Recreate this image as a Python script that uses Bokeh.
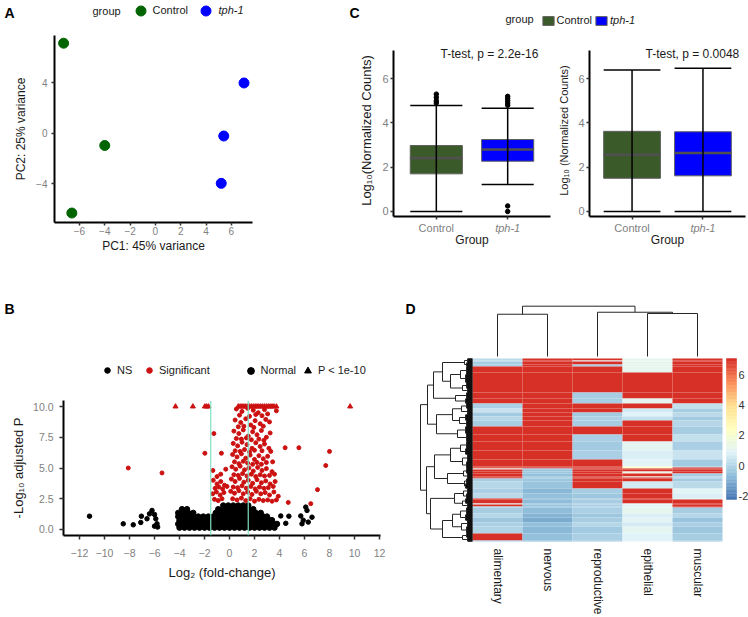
import math
import numpy as np
from bokeh.plotting import figure
from bokeh.models import (Range1d, FixedTicker, Label, Legend, LegendItem, LinearColorMapper,
                          Span, NumeralTickFormatter, ColumnDataSource)
from bokeh.layouts import row, column
from bokeh.embed import file_html
from bokeh.resources import INLINE
from bokeh.core.properties import value

FONT = "Liberation Sans"

# ---------------- Panel A: PCA ----------------
pca_pc1_control = [-7.25, -4.0, -6.6]
pca_pc2_control = [7.15, -0.95, -6.3]
pca_pc1_tph1 = [7.0, 5.4, 5.2]
pca_pc2_tph1 = [4.0, -0.2, -3.95]

# ---------------- Panel C: box plots ----------------
box_groups = ["Control", "tph-1"]
c1_low = [0.0, 1.22]
c1_q1 = [1.70, 2.27]
c1_med = [2.42, 2.80]
c1_q3 = [2.98, 3.25]
c1_high = [4.79, 4.66]
c1_out_group = [1, 1, 1, 1, 2, 2, 2, 2, 2, 2, 2]
c1_out_val = [4.9, 5.0, 5.15, 5.3, 4.8, 4.9, 5.0, 5.1, 5.2, 0.25, 0.0]
c2_low = [0.0, 0.0]
c2_q1 = [1.50, 1.61]
c2_med = [2.56, 2.64]
c2_q3 = [3.62, 3.60]
c2_high = [6.39, 6.47]

# ---------------- Panel B: volcano ----------------
ns_level_y = [0.15, 0.45, 0.75, 1.05, 1.35, 1.65, 1.95]
ns_level_x = [
    [-4.0, -3.6, -3.2, -2.8, -2.4, -2.0, -1.6, -1.2, -0.8, -0.4, 0.0, 0.4, 0.8, 1.2, 1.6, 2.0, 2.4, 2.8, 3.2, 3.6],
    [-4.1, -3.7, -3.3, -2.9, -2.5, -2.1, -1.7, -1.3, -0.9, -0.5, -0.1, 0.3, 0.7, 1.1, 1.5, 1.9, 2.3, 2.7, 3.1, 3.5, 3.8],
    [-4.0, -3.6, -3.2, -2.8, -2.4, -2.0, -1.6, -1.2, -0.8, -0.4, 0.0, 0.4, 0.8, 1.2, 1.6, 2.0, 2.4, 2.8, 3.2, 3.4],
    [-4.1, -3.7, -3.3, -2.9, -2.5, -2.1, -1.7, -1.3, -0.9, -0.5, -0.1, 0.3, 0.7, 1.1, 1.5, 1.9, 2.3, 2.7, 3.0],
    [-4.1, -3.7, -3.3, -2.9, -1.1, -0.7, -0.3, 0.1, 0.5, 0.9, 1.3, 1.7, 2.1, 2.5],
    [-3.8, -3.4, -0.9, -0.5, -0.1, 0.3, 0.7, 1.1, 1.5, 1.9],
    [-0.5, -0.1, 0.3, 0.7, 1.1, 1.5],
]
ns_out_x = [-11.2, -8.5, -7.7, -7.1, -7.05, -6.6, -6.4, -6.2, -6.0, -5.9, -5.8, -6.0, -5.75,
            4.1, 4.75, 5.7, 5.8, 6.1, 6.2, 6.6, 6.3, 5.9, 4.5]
ns_out_y = [1.08, 0.46, 0.38, 0.57, 1.08, 0.87, 1.27, 1.55, 1.22, 0.87, 0.46, 0.27, 0.2,
            1.1, 1.08, 1.1, 0.46, 1.82, 1.55, 1.0, 0.6, 0.75, 0.5]
sig_pts = [
    (0.55, 9.8), (1.0, 9.6), (1.45, 9.85), (1.9, 9.7), (2.3, 9.5), (2.8, 9.75), (3.75, 9.65), (0.8, 9.3),
    (1.6, 9.2), (2.1, 9.35), (2.6, 9.25), (3.05, 9.4),
    (0.45, 8.9), (0.9, 8.7), (1.3, 9.0), (1.7, 8.5), (2.05, 8.85), (2.45, 8.6), (2.9, 8.95), (0.7, 8.35),
    (1.15, 8.4), (1.95, 8.3), (2.7, 8.4), (3.2, 8.75),
    (0.35, 8.0), (0.75, 7.8), (1.1, 8.1), (1.5, 7.6), (1.85, 7.95), (2.2, 7.7), (2.55, 8.05), (2.95, 7.5),
    (3.25, 7.85), (0.55, 7.4), (0.95, 7.35), (1.35, 7.45), (1.75, 7.3), (2.35, 7.35), (2.75, 7.25), (-1.25, 7.8),
    (0.3, 7.0), (0.65, 6.8), (1.0, 7.1), (1.4, 6.9), (1.8, 6.6), (2.1, 7.05), (2.45, 6.75), (2.8, 6.95),
    (3.15, 6.6), (0.45, 6.4), (0.85, 6.35), (1.2, 6.5), (1.6, 6.3), (2.0, 6.45), (2.6, 6.4), (3.3, 6.35),
    (4.45, 6.65), (5.55, 6.65),
    (0.25, 6.1), (0.6, 5.9), (0.95, 6.15), (1.3, 5.8), (1.65, 6.05), (2.0, 5.7), (2.35, 6.0), (2.7, 5.75),
    (3.05, 5.95), (3.45, 5.5), (0.4, 5.5), (0.75, 5.35), (1.1, 5.55), (1.45, 5.4), (1.85, 5.3), (2.2, 5.45),
    (2.55, 5.3), (2.95, 5.45), (-1.97, 6.2), (-0.65, 6.2), (8.0, 6.35), (7.7, 5.2),
    (0.2, 5.1), (0.5, 4.9), (0.85, 5.15), (1.2, 4.85), (1.55, 5.0), (1.9, 4.75), (2.25, 5.05), (2.6, 4.8),
    (2.95, 4.95), (3.4, 4.7), (0.35, 4.45), (0.7, 4.4), (1.05, 4.55), (1.4, 4.35), (1.75, 4.5), (2.1, 4.3),
    (2.45, 4.45), (2.8, 4.35), (3.2, 4.4), (3.6, 4.5), (-0.7, 4.5), (-1.33, 4.8), (-1.0, 4.3), (-8.1, 5.0),
    (-5.4, 4.6), (-0.3, 4.9),
    (0.15, 4.1), (0.45, 3.9), (0.8, 4.15), (1.15, 3.85), (1.5, 4.0), (1.85, 3.75), (2.2, 4.05), (2.55, 3.8),
    (2.9, 3.95), (3.25, 3.7), (3.65, 3.9), (0.3, 3.45), (0.65, 3.4), (1.0, 3.55), (1.35, 3.35), (1.7, 3.5),
    (2.05, 3.3), (2.4, 3.45), (2.75, 3.35), (3.1, 3.4), (3.5, 3.5), (-1.3, 4.0), (-1.0, 3.7), (-0.7, 3.9),
    (-0.4, 3.6), (-1.15, 3.35), (-0.85, 3.45), (-0.55, 3.3), (-0.2, 3.5), (7.04, 3.24),
    (0.1, 3.1), (0.4, 2.95), (0.75, 3.15), (1.1, 2.9), (1.45, 3.05), (1.8, 2.85), (2.15, 3.1), (2.5, 2.9),
    (2.85, 3.0), (3.2, 2.8), (3.55, 3.05), (3.9, 2.7), (0.25, 2.5), (0.6, 2.4), (0.95, 2.55), (1.3, 2.35),
    (1.65, 2.5), (2.0, 2.3), (2.35, 2.45), (2.7, 2.35), (3.05, 2.4), (3.4, 2.3), (3.75, 2.4), (-1.35, 2.9),
    (-1.05, 3.05), (-0.75, 2.8), (-0.45, 3.0), (-1.2, 2.45), (-0.9, 2.35), (-0.6, 2.5), (4.7, 2.2), (6.5, 2.1),
]
capped_x = [-4.32, -2.93, -1.97, -1.83, -1.68, 0.7, 0.85, 1.0, 1.15, 1.3, 1.45, 1.6, 1.75, 1.9, 2.05,
            2.2, 2.35, 2.5, 2.65, 2.8, 2.95, 3.1, 3.25, 3.4, 3.55, 3.75, 9.65]
capped_y = [10.0] * len(capped_x)
fc_cutoffs = [-1.5, 1.5]

# ---------------- Panel D: heatmap ----------------
tissues = ["alimentary", "nervous", "reproductive", "epithelial", "muscular"]
band_rows = [2, 1, 3, 2, 6, 20, 6, 5, 5, 4, 4, 4, 6, 8, 7, 9, 9, 7, 1, 1, 1, 2, 2, 3, 1, 1, 3, 7,
             5, 5, 1, 4, 1, 2, 1, 6, 4, 5, 4, 7, 7, 1]
hm_alimentary = [0.2, 0.2, -0.2, -0.2, 7, 7, 7, 7, -0.1, 0.4, -0.3, 0.1, -0.2, 7, 7, 7, 7, 7, 7, 7, 1.2, 7,
                 7, 7, 7, 7, -0.2, 0.1, -0.1, 0.2, 7, 7, 1.1, 7, 0.0, -0.2, 0.1, -0.4, -0.1, 0.0, 7, -0.2]
hm_nervous = [7, 7, 7, 7, 7, 7, 7, 7, 7, 7, 7, 7, 7, 7, 7, 7, 7, 7, 7, 7, -0.5, -0.5, -0.4, -0.6, -0.5,
              -0.5, -0.4, -0.5, -0.8, -0.6, -0.9, -0.7, -0.6, -0.5, -0.6, -0.7, -0.9, -1.0, -0.6, -0.8, -0.6, -0.7]
hm_reproductive = [7, 1.0, 7, -0.1, 7, 7, -0.2, -0.2, 7, 7, -0.3, -0.1, -0.2, 7, -0.1, -0.3, -0.1, 7, 7, 7,
                   7, 7, 7, 7, 7, 7, 7, 7, -0.2, -0.4, -0.3, -0.2, -0.3, -0.1, -0.2, -0.1, -0.4, -0.2, 0.1,
                   -0.3, -0.1, -0.3]
hm_epithelial = [1.2, 1.2, 1.2, 1.2, 1.2, 7, 7, 1.1, 7, 0.6, 0.9, 0.3, 7, 7, 7, 1.1, 0.8, 1.0, 2.4, 2.2, 7,
                 7, 1.4, 7, 1.3, 7, 7, 0.6, 7, 7, 7, 7, 1.2, 1.0, 1.1, 1.2, 0.8, 1.0, 0.6, 1.1, 0.9, 1.0]
hm_muscular = [7, 7, 7, 7, 7, 7, 7, 7, 0.3, -0.2, 0.2, -0.3, 0.1, -0.2, 0.3, -0.1, 0.4, -0.3, -0.1, 7, 7,
               7, 7, -0.2, 0.0, -0.1, -0.3, 0.2, 1.0, 0.8, 1.1, 7, 7, 7, 7, -0.2, 0.1, -0.5, -0.1, -0.4,
               -0.2, -0.3]
# row clustering: leaf blocks (row ranges) and merges (left node, right node, height)
blk_start = [0, 4, 8, 16, 24, 30, 34, 40, 45, 50, 56, 62, 68, 75, 83, 90, 96, 103, 110, 115, 120, 125,
             130, 135, 140, 145, 149, 156, 162, 168, 175, 179]
blk_end = [4, 8, 16, 24, 30, 34, 40, 45, 50, 56, 62, 68, 75, 83, 90, 96, 103, 110, 115, 120, 125, 130,
           135, 140, 145, 149, 156, 162, 168, 175, 179, 183]
blk_h = [5, 6, 6, 7, 6, 5, 6, 7, 6, 5, 7, 6, 7, 6, 6, 7, 5, 6, 6, 5, 6, 7, 5, 6, 7, 5, 6, 7, 5, 6, 6, 5]
mrg_left = [0, 2, 4, 33, 32, 6, 36, 8, 10, 39, 12, 41, 38, 14, 16, 45, 18, 20, 48, 47, 22, 24, 52, 26, 28,
            55, 30, 57, 54, 51, 44]
mrg_right = [1, 3, 5, 34, 35, 7, 37, 9, 11, 40, 13, 42, 43, 15, 17, 46, 19, 21, 49, 50, 23, 25, 53, 27, 29,
             56, 31, 58, 59, 60, 61]
mrg_h = [8, 12, 10, 22, 30, 17, 39, 11, 13, 20, 15, 36, 45, 12, 10, 22, 9, 8, 25, 38, 9, 10, 18, 12, 11,
         20, 10, 30, 42, 46, 52]
# column clustering
col_mrg_left = [0, 3, 2, 5]
col_mrg_right = [1, 4, 6, 7]
col_mrg_h = [8.4, 8.55, 8.8, 10.0]
cbar_ticks = [-2, 0, 2, 4, 6]

# ======================================================================
GREY_TXT = "#7F7F7F"
DARK = "#1A1A1A"


def fig(**kw):
    p = figure(output_backend="svg", toolbar_location=None, **kw)
    p.frame_align = False
    return p


def blank_fig(w, h, xr=(0, 1), yr=(0, 1)):
    p = fig(width=w, height=h, min_border=0, x_axis_location=None, y_axis_location=None,
            x_range=Range1d(*xr), y_range=Range1d(*yr))
    p.grid.visible = False
    p.outline_line_color = None
    return p


def style_axes(p, tick_fs="10px", lab_fs="12px"):
    p.grid.visible = False
    p.outline_line_color = None
    for ax in p.axis:
        ax.axis_line_color = "black"
        ax.axis_line_width = 2
        ax.major_tick_line_color = "#333333"
        ax.major_tick_line_width = 1.5
        ax.minor_tick_line_color = None
        ax.major_tick_in = 0
        ax.major_tick_out = 3
        ax.major_label_text_color = GREY_TXT
        ax.major_label_text_font = FONT
        ax.major_label_text_font_size = tick_fs
        ax.axis_label_text_font = FONT
        ax.axis_label_text_font_size = lab_fs
        ax.axis_label_text_font_style = "normal"
        ax.axis_label_text_color = DARK


def make_legend(items, loc, gw, gh, standoff, fs="11px", italic=False, spacing=4):
    return Legend(items=items, location=loc, orientation="horizontal", glyph_width=gw, glyph_height=gh,
                  label_standoff=standoff, padding=0, margin=0, spacing=spacing,
                  border_line_color=None, background_fill_alpha=0,
                  label_text_font=FONT, label_text_font_size=fs, label_text_color=DARK,
                  label_height=gh, label_text_font_style="italic" if italic else "normal")


def tag(text, x, y, size="14px"):
    return Label(x=x, y=y, x_units="screen", y_units="screen", text=text, text_font=FONT,
                 text_font_size=size, text_font_style="bold", text_baseline="top", text_color="black")


def plain(text, x, y, fs="11px", italic=False, units="screen", align="left", color=DARK):
    return Label(x=x, y=y, x_units=units, y_units=units, text=text, text_font=FONT, text_font_size=fs,
                 text_font_style="italic" if italic else "normal", text_align=align,
                 text_baseline="middle", text_color=color)


# ---------------- Panel A ----------------
fah = blank_fig(340, 35)
ha_c = fah.scatter([-5], [-5], size=10, color="#006400")
ha_t = fah.scatter([-5], [-5], size=10, color="#0000FF")
fah.add_layout(tag("A", 4, 31))
fah.add_layout(plain("group", 92, 25))
fah.add_layout(make_legend([LegendItem(label="Control", renderers=[ha_c])], (127.5, 12.5), 25, 25, 0))
fah.add_layout(make_legend([LegendItem(label="tph-1", renderers=[ha_t])], (192.5, 12.5), 25, 25, 1,
                           italic=True))

fa = fig(width=340, height=230, x_range=Range1d(-7.97, 7.67), y_range=Range1d(-7.05, 7.76),
         min_border_left=54, min_border_right=88, min_border_top=0, min_border_bottom=43)
fa.scatter(pca_pc1_control, pca_pc2_control, size=10, fill_color="#006400", line_color="#006400")
fa.scatter(pca_pc1_tph1, pca_pc2_tph1, size=10, fill_color="#0000FF", line_color="#0000FF")
style_axes(fa)
fa.xaxis.ticker = FixedTicker(ticks=[-6, -4, -2, 0, 2, 4, 6])
fa.yaxis.ticker = FixedTicker(ticks=[-4, 0, 4])
fa.xaxis.axis_label = "PC1: 45% variance"
fa.yaxis.axis_label = "PC2: 25% variance"
fa.xaxis.major_tick_out = 3
fa.xaxis.major_label_standoff = 1
fa.xaxis.axis_label_standoff = 1
fa.yaxis.major_label_standoff = 4
fa.yaxis.axis_label_standoff = 5

# ---------------- Panel C ----------------
BOX_COLORS = ["#3B5A2A", "#0000FF"]
fcl = blank_fig(408, 40)
rl_c = fcl.vbar(x=[5], bottom=[4], top=[5], width=0.5, fill_color=BOX_COLORS[0], line_color="#5F5F5F")
rl_t = fcl.vbar(x=[5], bottom=[4], top=[5], width=0.5, fill_color=BOX_COLORS[1], line_color="#5F5F5F")
fcl.add_layout(tag("C", 9, 36))
fcl.add_layout(plain("group", 165, 22))
fcl.add_layout(make_legend([LegendItem(label="Control", renderers=[rl_c])], (200.5, 14), 14, 11, 2))
fcl.add_layout(make_legend([LegendItem(label="tph-1", renderers=[rl_t])], (254, 14), 14, 11, 2,
                           italic=True))

Y_LO, Y_HI, Y_TOP = -0.226, 7.27, 7.541


def box_fig(width, mbl, mbr, bw, low, q1, med, q3, high, out_g, out_v, ylabel, ylab_fs, ttext, tx):
    p = fig(width=width, height=180, x_range=Range1d(0.4, 2.6), y_range=Range1d(Y_LO, Y_TOP),
            min_border_left=mbl, min_border_right=mbr, min_border_top=4, min_border_bottom=4)
    xs = [i + 1 for i in range(len(box_groups))]
    p.vbar(x=xs, bottom=q1, top=q3, width=bw, fill_color=BOX_COLORS, line_color="#5F5F5F", line_width=1)
    p.segment(x0=[x - bw / 2 for x in xs], x1=[x + bw / 2 for x in xs], y0=med, y1=med,
              line_color="#505050", line_width=2.5)
    p.segment(x0=xs, x1=xs, y0=low, y1=high, line_color="black", line_width=1.5)
    p.segment(x0=[x - bw / 2 for x in xs], x1=[x + bw / 2 for x in xs], y0=low, y1=low,
              line_color="black", line_width=1.5)
    p.segment(x0=[x - bw / 2 for x in xs], x1=[x + bw / 2 for x in xs], y0=high, y1=high,
              line_color="black", line_width=1.5)
    if out_v:
        p.scatter(out_g, out_v, size=4.5, color="black")
    style_axes(p, tick_fs="11px", lab_fs="12px")
    p.xaxis.ticker = FixedTicker(ticks=xs)
    p.xaxis.major_label_overrides = {1: "", 2: ""}
    p.xaxis.major_label_text_font_size = "0px"
    p.xaxis.major_label_standoff = 0
    p.xaxis.bounds = (0.4, 2.6)
    p.yaxis.bounds = (Y_LO, Y_HI)
    p.yaxis.ticker = FixedTicker(ticks=[0, 2, 4, 6])
    p.yaxis.major_label_standoff = 2
    p.yaxis.axis_label = ylabel
    p.yaxis.axis_label_text_font_size = ylab_fs
    p.yaxis.axis_label_standoff = 5
    p.add_layout(Label(x=tx, y=7.1, text=ttext, text_font=FONT, text_font_size="12px",
                       text_baseline="middle", text_color=DARK))
    return p


def tick_strip(width, xr):
    s = blank_fig(width, 45, xr=xr, yr=(0, 45))
    xs = [i + 1 for i in range(len(box_groups))]
    for i, g in enumerate(box_groups):
        s.add_layout(plain(g, xs[i], 38, fs="11px", italic=(i == 1), units="data", align="center",
                           color=GREY_TXT))
    s.add_layout(plain("Group", 1.5, 26, fs="12px", units="data", align="center"))
    return s


fc1 = box_fig(212, 53, 2, 0.73, c1_low, c1_q1, c1_med, c1_q3, c1_high, c1_out_group, c1_out_val,
              "Log\u2081\u2080(Normalized Counts)", "13px", "T-test, p = 2.2e-16", 1.06)
fc2 = box_fig(196, 37, 3, 0.8, c2_low, c2_q1, c2_med, c2_q3, c2_high, [], [],
              "Log\u2081\u2080 (Normalized Counts)", "11px", "T-test, p = 0.0048", 1.19)
fc1s = tick_strip(212, (0.4 - 53 / (157 / 2.2), 2.6 + 2 / (157 / 2.2)))
fc2s = tick_strip(196, (0.4 - 37 / (156 / 2.2), 2.6 + 3 / (156 / 2.2)))

# ---------------- Panel B: volcano ----------------
fbh = blank_fig(397, 135)
hb_ns = fbh.scatter([-5], [-5], size=5, color="black")
hb_sig = fbh.scatter([-5], [-5], size=5, color="#CC1111")
hb_norm = fbh.scatter([-5], [-5], marker="circle", size=7, color="black")
hb_tri = fbh.scatter([-5], [-5], marker="triangle", size=7, color="black")
fbh.add_layout(tag("B", 4, 100))
fbh.add_layout(make_legend([LegendItem(label="NS", renderers=[hb_ns]),
                            LegendItem(label="Significant", renderers=[hb_sig])],
                           (100, 23), 14, 14, 3, spacing=5))
fbh.add_layout(make_legend([LegendItem(label="Normal", renderers=[hb_norm]),
                            LegendItem(label="P < 1e-10", renderers=[hb_tri])],
                           (241.5, 21.5), 17, 17, 2, spacing=3))

fb = fig(width=397, height=217, x_range=Range1d(-13.28, 12.08), y_range=Range1d(-0.49, 10.49),
         min_border_left=63, min_border_right=17, min_border_top=0, min_border_bottom=82)
mass_x = [x for xs_ in ns_level_x for x in xs_]
mass_y = [ns_level_y[i] for i, xs_ in enumerate(ns_level_x) for _ in xs_]
fb.scatter(mass_x, mass_y, size=5.5, color="black")
fb.scatter(ns_out_x, ns_out_y, size=4.5, color="black")
fb.scatter([p[0] for p in sig_pts], [p[1] for p in sig_pts], size=4, color="#CC1111")
fb.scatter(capped_x, capped_y, marker="triangle", size=5, color="#CC1111")
for c in fc_cutoffs:
    fb.add_layout(Span(location=c, dimension="height", line_color="#7FE0C4", line_width=1.2))
style_axes(fb, tick_fs="10.5px", lab_fs="13px")
fb.xaxis.ticker = FixedTicker(ticks=list(range(-12, 13, 2)))
fb.yaxis.ticker = FixedTicker(ticks=[0, 2.5, 5, 7.5, 10])
fb.yaxis.formatter = NumeralTickFormatter(format="0.0")
fb.xaxis.major_tick_out = 4
fb.xaxis.major_label_standoff = 9
fb.xaxis.axis_label = "Log\u2082 (fold-change)"
fb.xaxis.axis_label_standoff = 5
fb.yaxis.major_tick_out = 4
fb.yaxis.major_label_standoff = 6
fb.yaxis.major_label_text_baseline = "top"
fb.yaxis.axis_label = "-Log\u2081\u2080 adjusted P"
fb.yaxis.axis_label_standoff = 4

# ---------------- Panel D: clustered heatmap ----------------
base = ["#4575B4", "#91BFDB", "#E0F3F8", "#FFFFBF", "#FEE090", "#FC8D59", "#D73027"]


def interp_palette(cols, n):
    rgb = [tuple(int(c[i:i + 2], 16) for i in (1, 3, 5)) for c in cols]
    out = []
    for k in range(n):
        t = k / (n - 1) * (len(rgb) - 1)
        i = min(int(t), len(rgb) - 2)
        f = t - i
        out.append("#%02x%02x%02x" % tuple(round(rgb[i][j] + (rgb[i + 1][j] - rgb[i][j]) * f) for j in range(3)))
    return out


palette = interp_palette(base, 100)
C_LOW, C_HIGH = -2.2, 7.05
mapper = LinearColorMapper(palette=palette, low=C_LOW, high=C_HIGH)

fd = blank_fig(326, 352, xr=(-1.5, 5.02), yr=(-76, 276))
cols = [hm_alimentary, hm_nervous, hm_reproductive, hm_epithelial, hm_muscular]
cum = np.concatenate([[0], np.cumsum(band_rows)])
n_total = int(cum[-1])
L, R, T, B, V = [], [], [], [], []
for b in range(len(band_rows)):
    for c, cv in enumerate(cols):
        L.append(c); R.append(c + 1)
        T.append(float(n_total - cum[b])); B.append(float(n_total - cum[b + 1])); V.append(cv[b])
hsrc = ColumnDataSource(dict(left=L, right=R, top=T, bottom=B, v=V))
fd.quad(left="left", right="right", top="top", bottom="bottom", source=hsrc,
        fill_color={"field": "v", "transform": mapper}, line_color=None)

# row dendrogram (height in px -> x units of 50 px)
PX = 1.0 / 50.0
sx0, sy0, sx1, sy1 = [], [], [], []
lx0, ly0, lx1, ly1 = [], [], [], []
node_y, node_h = [], []
for s, e, h in zip(blk_start, blk_end, blk_h):
    ys = [n_total - r - 0.5 for r in range(s, e)]
    for y in ys:
        lx0.append(0); ly0.append(y); lx1.append(-h * PX); ly1.append(y)
    sx0.append(-h * PX); sy0.append(ys[0]); sx1.append(-h * PX); sy1.append(ys[-1])
    node_y.append((ys[0] + ys[-1]) / 2); node_h.append(h)
for l, r, H in zip(mrg_left, mrg_right, mrg_h):
    for nd in (l, r):
        sx0.append(-node_h[nd] * PX); sy0.append(node_y[nd]); sx1.append(-H * PX); sy1.append(node_y[nd])
    sx0.append(-H * PX); sy0.append(node_y[l]); sx1.append(-H * PX); sy1.append(node_y[r])
    node_y.append((node_y[l] + node_y[r]) / 2); node_h.append(H)
fd.segment(x0=lx0, y0=ly0, x1=lx1, y1=ly1, line_color="black", line_width=1.3)
fd.segment(x0=sx0, y0=sy0, x1=sx1, y1=sy1, line_color="#262626", line_width=1)

# column dendrogram
CBASE, CSCALE = 185.0, 5.03
cx0, cy0, cx1, cy1 = [], [], [], []
cnode_x = [i + 0.5 for i in range(len(tissues))]
cnode_h = [0.0] * len(tissues)
for l, r, H in zip(col_mrg_left, col_mrg_right, col_mrg_h):
    for nd in (l, r):
        cx0.append(cnode_x[nd]); cy0.append(CBASE + cnode_h[nd] * CSCALE)
        cx1.append(cnode_x[nd]); cy1.append(CBASE + H * CSCALE)
    cx0.append(cnode_x[l]); cy0.append(CBASE + H * CSCALE); cx1.append(cnode_x[r]); cy1.append(CBASE + H * CSCALE)
    cnode_x.append((cnode_x[l] + cnode_x[r]) / 2); cnode_h.append(H)
fd.segment(x0=cx0, y0=cy0, x1=cx1, y1=cy1, line_color="#262626", line_width=1)

fd.text(x=[i + 0.5 for i in range(len(tissues))], y=[-7] * len(tissues), text=tissues,
        angle=-math.pi / 2, text_align="left", text_baseline="middle",
        text_font=value(FONT), text_font_size="12px", text_color=DARK)
fd.add_layout(tag("D", 8, 317))

# colour key: bar of 10 px (1 x-unit = 10 px), 141 px tall for the mapper's range
KPX = 141.0 / (C_HIGH - C_LOW)
fcb = blank_fig(25, 352, xr=(-0.3, 2.2), yr=(C_LOW - 118 / KPX, C_HIGH + 93 / KPX))
nstep = len(palette)
step = (C_HIGH - C_LOW) / nstep
fcb.quad(left=[0] * nstep, right=[1] * nstep, bottom=[C_LOW + k * step for k in range(nstep)],
         top=[C_LOW + (k + 1) * step for k in range(nstep)], fill_color=palette, line_color=palette,
         line_width=0.5)
fcb.text(x=[1.2] * len(cbar_ticks), y=cbar_ticks, text=[str(t) for t in cbar_ticks],
         text_align="left", text_baseline="middle", text_font=value(FONT), text_font_size="11px",
         text_color="#333333")

layout = column(
    row(column(fah, fa), column(fcl, row(fc1, fc2), row(fc1s, fc2s))),
    row(column(fbh, fb), fd, fcb),
)
open("out.html", "w").write(file_html(layout, INLINE))
